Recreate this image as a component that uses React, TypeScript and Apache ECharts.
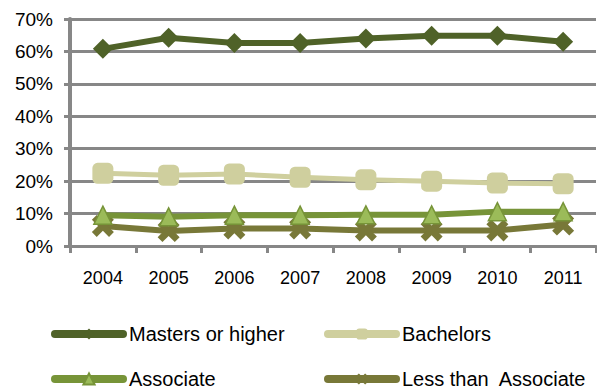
import React, { useEffect, useRef } from "react";
import * as echarts from "echarts";

const years = ["2004", "2005", "2006", "2007", "2008", "2009", "2010", "2011"];
const masters = [60.8, 64.2, 62.6, 62.6, 64.0, 64.8, 64.8, 63.0];
const bachelors = [22.4, 21.8, 22.2, 21.2, 20.4, 20.0, 19.4, 19.2];
const associate = [9.5, 9.0, 9.5, 9.5, 9.6, 9.6, 10.6, 10.6];
const lessThan = [6.2, 4.6, 5.4, 5.4, 4.8, 4.8, 4.8, 6.6];
const yTicks = [0, 10, 20, 30, 40, 50, 60, 70];

const seriesNames = ["Masters or higher", "Bachelors", "Associate", "Less than  Associate"];

const xPath =
  "path://M0,2.2 L2.2,0 L5,2.8 L7.8,0 L10,2.2 L7.2,5 L10,7.8 L7.8,10 L5,7.2 L2.2,10 L0,7.8 L2.8,5 Z";

export default function App() {
  const ref = useRef<HTMLDivElement>(null);
  useEffect(() => {
    if (!ref.current) return;
    const chart = echarts.init(ref.current, null, { renderer: "svg" });
    const font = "Liberation Sans, Arial, sans-serif";
    const legendBase = {
      itemWidth: 68,
      itemHeight: 14,
      itemGap: 4,
      padding: 0,
      lineStyle: { width: 8, cap: "round" },
      textStyle: { fontSize: 20, fontFamily: font, color: "#000", padding: [0, 0, 0, 1] },
    };
    chart.setOption({
      animation: false,
      grid: { left: 70, right: 1, top: 19, bottom: 144, containLabel: false },
      xAxis: {
        type: "category",
        data: years,
        boundaryGap: true,
        axisLine: { lineStyle: { color: "#878787", width: 3 } },
        axisTick: { show: true, length: 7, lineStyle: { color: "#878787", width: 3 } },
        axisLabel: { fontSize: 18, fontFamily: font, color: "#000", margin: 23 },
      },
      yAxis: {
        type: "value",
        min: yTicks[0],
        max: yTicks[yTicks.length - 1],
        interval: 10,
        axisLine: { show: true, lineStyle: { color: "#878787", width: 4 } },
        axisTick: { show: true, length: 6, lineStyle: { color: "#878787", width: 3 } },
        axisLabel: {
          fontSize: 19,
          fontFamily: font,
          color: "#000",
          margin: 17,
          formatter: (v: number) => v + "%",
        },
        splitLine: { lineStyle: { color: "#878787", width: 3 } },
      },
      legend: [
        { ...legendBase, left: 51, top: 324, data: [seriesNames[0]] },
        { ...legendBase, left: 324, top: 324, data: [seriesNames[1]] },
        { ...legendBase, left: 51, top: 369, data: [seriesNames[2]] },
        { ...legendBase, left: 324, top: 369, data: [seriesNames[3]] },
      ],
      series: [
        {
          name: seriesNames[3],
          type: "line",
          data: lessThan,
          z: 2,
          symbol: xPath,
          symbolSize: 22,
          lineStyle: { color: "#787838", width: 6, cap: "round" },
          itemStyle: { color: "#787838" },
        },
        {
          name: seriesNames[2],
          type: "line",
          data: associate,
          z: 3,
          symbol: "triangle",
          symbolSize: 18,
          lineStyle: { color: "#779438", width: 6, cap: "round" },
          itemStyle: { color: "#9BBB59", borderColor: "#779438", borderWidth: 1.5 },
        },
        {
          name: seriesNames[1],
          type: "line",
          data: bachelors,
          z: 4,
          symbol: "roundRect",
          symbolSize: 21,
          lineStyle: { color: "#CFCF9E", width: 5, cap: "round" },
          itemStyle: { color: "#CFCF9E" },
        },
        {
          name: seriesNames[0],
          type: "line",
          data: masters,
          z: 5,
          symbol: "diamond",
          symbolSize: 20,
          lineStyle: { color: "#4F6228", width: 6, cap: "round" },
          itemStyle: { color: "#4F6228" },
        },
      ],
    });
    return () => chart.dispose();
  }, []);
  return <div ref={ref} style={{ width: 597, height: 390, position: "absolute", left: 0, top: 0 }} />;
}
